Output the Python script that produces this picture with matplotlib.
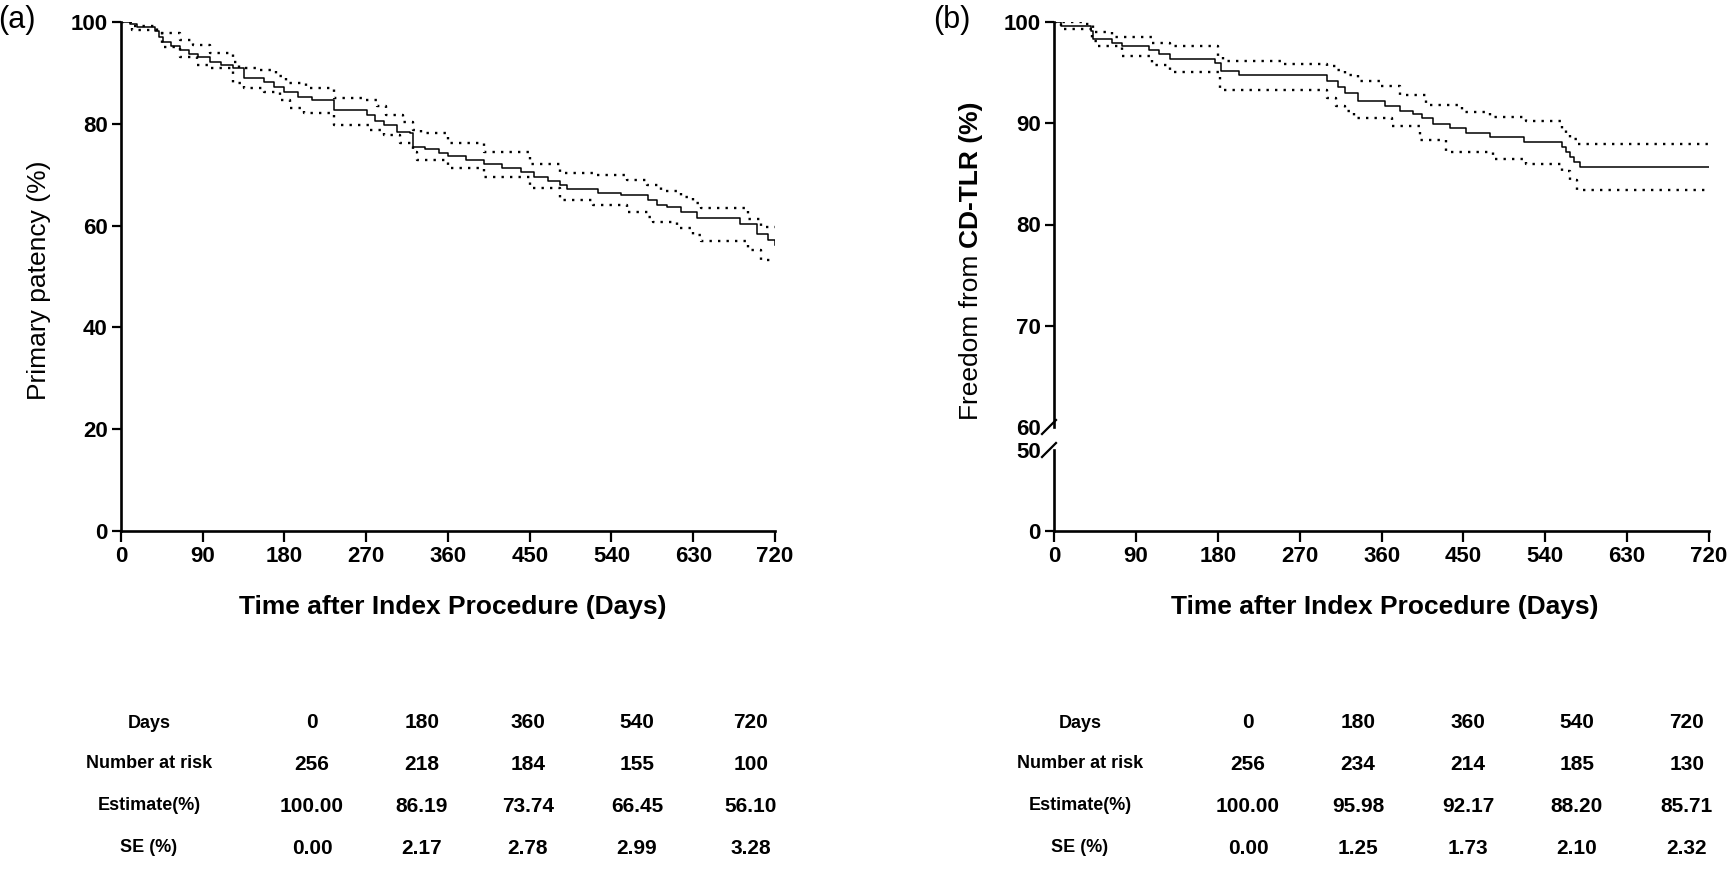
"""Two Kaplan-Meier panels (primary patency / freedom from CD-TLR) with
risk tables underneath. Panel (b) uses a broken y axis (0-50 | 60-100)."""
import matplotlib
matplotlib.use("Agg")
import matplotlib.pyplot as plt

# ---- panel (a): primary patency -------------------------------------------
A_DAYS = [0, 10, 18, 37, 42, 46, 55, 65, 75, 85, 98, 110, 123, 135, 157, 168,
          180, 195, 210, 234, 271, 280, 290, 304, 318, 322, 335, 350, 360, 380,
          400, 420, 440, 455, 470, 483, 491, 525, 550, 580, 590, 601, 616, 634,
          682, 700, 712, 720]
A_SURV = [100, 99.6, 99.1, 98.2, 97.0, 96.1, 95.3, 94.5, 93.8, 93.2, 92.2, 91.5,
          90.9, 88.9, 88.3, 87.3, 86.19, 85.3, 84.7, 82.7, 81.7, 80.5, 79.8, 78.4,
          78.1, 75.5, 75.0, 74.3, 73.74, 72.9, 72.2, 71.3, 70.5, 69.5, 68.8, 68.0,
          67.1, 66.45, 66.0, 65.0, 64.0, 63.6, 62.7, 61.5, 60.3, 58.3, 57.2, 56.1]
A_UP_DAYS = [0, 12, 40, 65, 79, 98, 123, 130, 150, 171, 182, 204, 234, 267, 282,
             292, 311, 322, 330, 360, 400, 450, 483, 520, 557, 579, 594, 616, 630,
             638, 690, 705, 720]
A_UP = [100, 99.3, 97.8, 96.5, 95.5, 93.9, 92.2, 91.0, 90.6, 89.3, 88.0, 87.0,
        85.0, 84.7, 83.4, 81.7, 80.4, 78.8, 78.2, 76.2, 74.5, 72.2, 70.3, 69.9,
        69.0, 68.0, 66.7, 65.7, 64.4, 63.4, 61.3, 59.8, 59.8]
A_LO_DAYS = [0, 12, 45, 65, 84, 98, 123, 135, 157, 175, 186, 201, 234, 274, 289,
             307, 322, 326, 360, 400, 450, 483, 520, 557, 580, 586, 612, 630, 638,
             690, 705, 720]
A_LO = [100, 98.4, 95.1, 93.2, 91.6, 90.9, 88.0, 87.0, 86.3, 84.7, 83.1, 82.1,
        79.8, 78.8, 77.8, 76.2, 74.5, 72.9, 71.4, 69.5, 67.3, 65.0, 64.0, 62.7,
        61.7, 60.8, 59.5, 58.2, 57.0, 55.3, 53.3, 53.3]

# ---- panel (b): freedom from CD-TLR ---------------------------------------
B_DAYS = [0, 8, 41, 43, 64, 75, 104, 115, 128, 177, 184, 203, 300, 312, 320,
          334, 364, 380, 395, 404, 417, 435, 453, 479, 517, 558, 563, 567, 572,
          578, 720]
B_SURV = [100, 99.6, 99.1, 98.3, 97.95, 97.6, 97.2, 96.8, 96.3, 95.98, 95.15,
          94.75, 94.2, 93.6, 93.0, 92.17, 91.7, 91.25, 90.9, 90.5, 89.9, 89.5,
          89.0, 88.6, 88.15, 87.7, 87.2, 86.7, 86.2, 85.71, 85.71]
B_UP_DAYS = [0, 35, 43, 64, 108, 128, 180, 186, 250, 300, 310, 320, 334, 358,
             380, 409, 449, 479, 519, 558, 563, 567, 575, 720]
B_UP = [100, 99.8, 99.0, 98.5, 97.95, 97.6, 96.5, 96.1, 95.9, 95.7, 95.3, 94.8,
        94.2, 93.7, 92.8, 91.8, 91.1, 90.6, 90.2, 89.4, 88.9, 88.4, 88.0, 88.0]
B_LO_DAYS = [0, 8, 42, 47, 75, 108, 128, 182, 300, 310, 320, 330, 372, 402, 431,
             483, 519, 558, 567, 575, 720]
B_LO = [100, 99.3, 98.1, 97.6, 96.6, 95.8, 95.1, 93.3, 92.5, 91.7, 91.2, 90.5,
        89.7, 88.3, 87.2, 86.5, 86.0, 85.3, 84.4, 83.4, 83.4]

# ---- risk tables ------------------------------------------------------------
ROW_LABELS = ["Days", "Number at risk", "Estimate(%)", "SE (%)"]
TABLE_DAYS = ["0", "180", "360", "540", "720"]
A_RISK = ["256", "218", "184", "155", "100"]
A_EST = ["100.00", "86.19", "73.74", "66.45", "56.10"]
A_SE = ["0.00", "2.17", "2.78", "2.99", "3.28"]
B_RISK = ["256", "234", "214", "185", "130"]
B_EST = ["100.00", "95.98", "92.17", "88.20", "85.71"]
B_SE = ["0.00", "1.25", "1.73", "2.10", "2.32"]

XTICKS = list(range(0, 721, 90))

plt.rcParams.update({
    "font.family": ["Liberation Sans", "DejaVu Sans"],
    "axes.linewidth": 1.9,
    "xtick.major.width": 1.6,
    "ytick.major.width": 1.6,
    "xtick.major.size": 8,
    "ytick.major.size": 6.5,
    "xtick.labelsize": 16,
    "ytick.labelsize": 16,
})

W, H = 1731, 869
fig = plt.figure(figsize=(W / 100, H / 100), dpi=100)


def px_axes(x0, y0, x1, y1):
    # pixel box (top-left origin) -> figure axes
    return fig.add_axes([x0 / W, 1 - y1 / H, (x1 - x0) / W, (y1 - y0) / H])


def style(ax):
    for s in ("top", "right"):
        ax.spines[s].set_visible(False)
    ax.tick_params(direction="out", pad=3)
    for lab in ax.get_xticklabels() + ax.get_yticklabels():
        lab.set_fontweight("bold")


def draw_km(ax, days, surv, up_d, up, lo_d, lo):
    ax.plot(days, surv, drawstyle="steps-post", color="black", lw=1.1)
    for d, v in ((up_d, up), (lo_d, lo)):
        ax.plot(d, v, drawstyle="steps-post", color="black", lw=1.7,
                linestyle=(0, (1, 2.6)))


# panel (a)
axa = px_axes(121, 22, 775, 531)
draw_km(axa, A_DAYS, A_SURV, A_UP_DAYS, A_UP, A_LO_DAYS, A_LO)
axa.set_xlim(0, 720)
axa.set_ylim(0, 100)
axa.set_xticks(XTICKS)
axa.set_yticks(range(0, 101, 20))
style(axa)

# panel (b) - broken y axis
axb_top = px_axes(1054, 22, 1709, 427)
axb_bot = px_axes(1054, 450, 1709, 531)
for ax in (axb_top, axb_bot):
    draw_km(ax, B_DAYS, B_SURV, B_UP_DAYS, B_UP, B_LO_DAYS, B_LO)
    ax.set_xlim(0, 720)
axb_top.set_ylim(60, 100)
axb_top.set_yticks(range(60, 101, 10))
axb_top.spines["bottom"].set_visible(False)
axb_top.set_xticks([])
axb_bot.set_ylim(0, 50)
axb_bot.set_yticks([0, 50])
axb_bot.set_xticks(XTICKS)
style(axb_top)
style(axb_bot)
axb_top.yaxis.get_major_ticks()[0].tick1line.set_visible(False)
axb_bot.yaxis.get_major_ticks()[-1].tick1line.set_visible(False)

# break marks "/" at 60 and 50
fig.canvas.draw()
for ax, yv in ((axb_top, 60), (axb_bot, 50)):
    xp, yp = ax.transData.transform((0, yv))
    xs = [xp - 12, xp + 2]
    ys = [yp - 7, yp + 7]
    fig.add_artist(plt.Line2D([x / W for x in xs], [y / H for y in ys],
                              transform=fig.transFigure, color="black", lw=1.6))

# axis labels and panel letters
xlab_y = 1 - 607 / H
fig.text(453 / W, xlab_y, "Time after Index Procedure (Days)", ha="center",
         va="center", fontsize=19, fontweight="bold")
fig.text(1385 / W, xlab_y, "Time after Index Procedure (Days)", ha="center",
         va="center", fontsize=19, fontweight="bold")
fig.text(39 / W, 1 - 280 / H, "Primary patency (%)", rotation=90, ha="center",
         va="center", fontsize=19)
t1 = fig.text(971 / W, 1 - 420 / H, "Freedom from", rotation=90, ha="center",
              va="bottom", fontsize=19)
axb_top.annotate("CD-TLR (%)", xy=(0.5, 1), xycoords=t1, xytext=(0, 5),
                 textcoords="offset points", rotation=90, ha="center",
                 va="bottom", fontsize=19, fontweight="bold",
                 annotation_clip=False)
fig.text(17 / W, 1 - 20 / H, "(a)", ha="center", va="center", fontsize=22)
fig.text(952 / W, 1 - 20 / H, "(b)", ha="center", va="center", fontsize=22)

# risk tables
ROW_Y = [723, 764, 806, 848]
A_COLS = [312, 422, 528, 637, 751]
B_COLS = [1248, 1358, 1468, 1577, 1687]
for label_x, cols, rows in (
        (149, A_COLS, [TABLE_DAYS, A_RISK, A_EST, A_SE]),
        (1080, B_COLS, [TABLE_DAYS, B_RISK, B_EST, B_SE])):
    for y, lab, vals in zip(ROW_Y, ROW_LABELS, rows):
        fig.text(label_x / W, 1 - y / H, lab, ha="center", va="center",
                 fontsize=13, fontweight="bold")
        for x, v in zip(cols, vals):
            fig.text(x / W, 1 - y / H, v, ha="center", va="center",
                     fontsize=15, fontweight="bold")

fig.savefig("out.png", dpi=100, facecolor="white")
